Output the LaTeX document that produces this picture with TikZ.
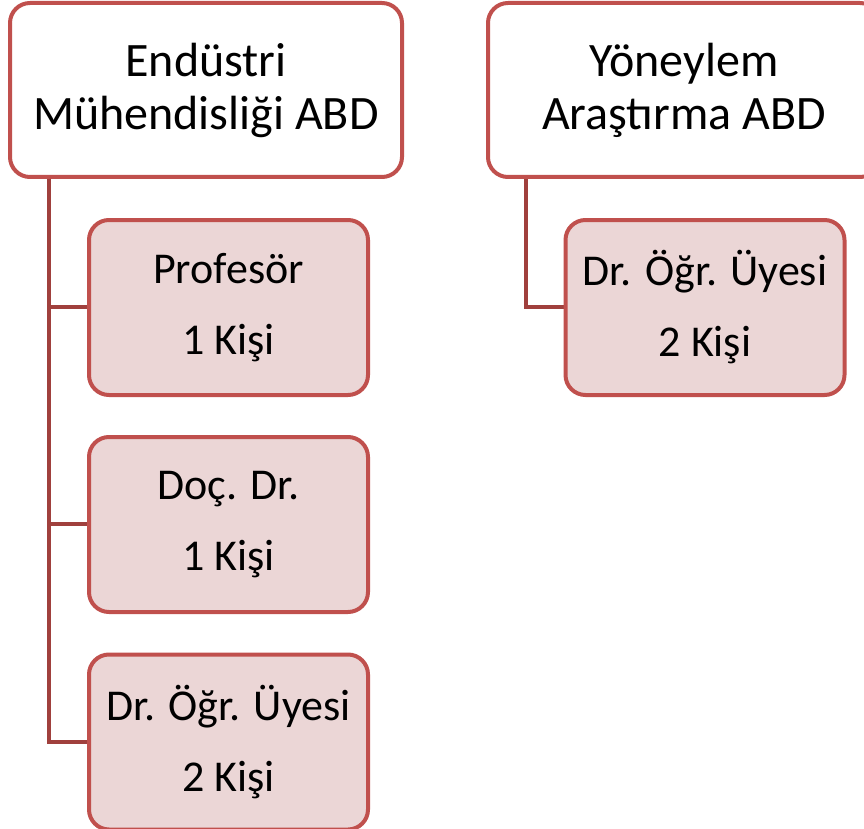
\documentclass[tikz,border=0pt]{standalone}
\usepackage{fontspec}
\setmainfont{Carlito}
\definecolor{bordred}{HTML}{C0504D}
\definecolor{connred}{HTML}{A0403D}
\definecolor{pinkfill}{HTML}{EBD6D6}
\begin{document}
\begin{tikzpicture}[x=1pt,y=-1pt,
  headbox/.style={draw=bordred, line width=4pt, rounded corners=20pt, fill=white,
    minimum width=392pt, minimum height=174pt, align=center, inner sep=0pt,
    font=\fontsize{48}{53}\selectfont},
  childbox/.style={draw=bordred, line width=4pt, rounded corners=20pt, fill=pinkfill,
    minimum width=279pt, minimum height=175pt, align=center, inner sep=0pt,
    font=\fontsize{44}{71}\selectfont},
  conn/.style={draw=connred, line width=4pt}]
\useasboundingbox (0,0) rectangle (864,829);
\node[headbox] (h1) at (206,90) {Endüstri\\Mühendisliği ABD};
\node[headbox] (h2) at (684,90) {Yöneylem\\Araştırma ABD};
\draw[conn] ([xshift=41pt]h1.south west) |- (228,742);
\draw[conn] ([xshift=41pt]h1.south west) |- (228,307);
\draw[conn] ([xshift=41pt]h1.south west) |- (228,524);
\draw[conn] ([xshift=40pt]h2.south west) |- (705,307);
\node[childbox] (c1) at (228.5,307.5) {Profesör\\1 Kişi};
\node[childbox] (c2) at (228.5,524.5) {Doç. Dr.\\1 Kişi};
\node[childbox] (c3) at (228.5,742) {Dr. Öğr. Üyesi\\2 Kişi};
\node[childbox] (r1) at (705,307.5) {Dr. Öğr. Üyesi\\2 Kişi};
\end{tikzpicture}
\end{document}
